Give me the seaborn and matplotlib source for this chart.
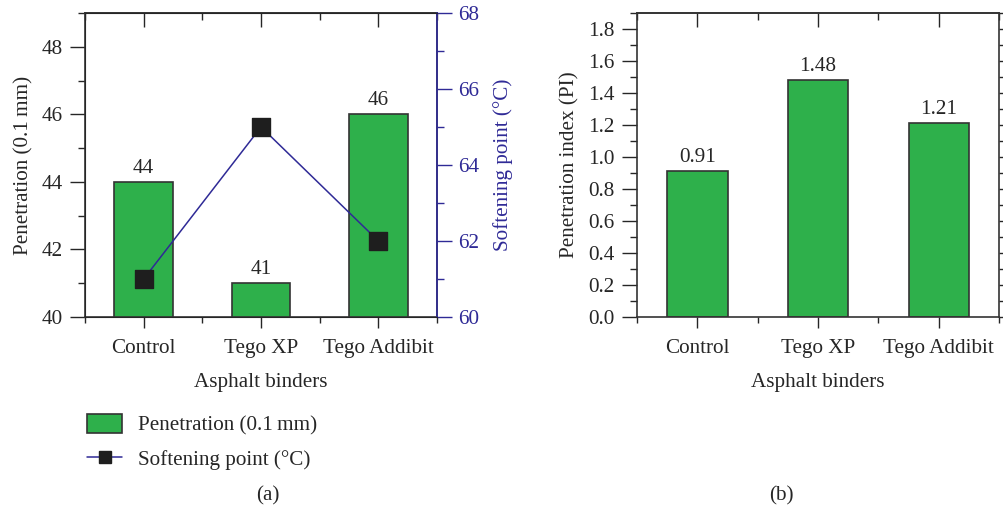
import numpy as np
import matplotlib
matplotlib.use("Agg")
import matplotlib.pyplot as plt
import seaborn as sns
from matplotlib.patches import Patch
from matplotlib.lines import Line2D
from matplotlib.ticker import MultipleLocator

# dados
binders = ['Control', 'Tego XP', 'Tego Addibit']
penetration = [44, 41, 46]
softening = [61, 65, 62]
pen_index = [0.91, 1.48, 1.21]
pen_labels = ['44', '41', '46']
pi_labels = ['0.91', '1.48', '1.21']

sns.set_style('ticks')
plt.rcParams['font.family'] = ['Liberation Serif', 'DejaVu Serif']
plt.rcParams['font.size'] = 15.2

green = '#2eb04b'
edge = '#333333'
blue = '#2f2a96'

fig = plt.figure(figsize=(10.04, 5.07), dpi=100)
ax1 = fig.add_axes([0.0847, 0.3748, 0.3506, 0.5996])
ax3 = fig.add_axes([0.6345, 0.3748, 0.3606, 0.5996])


def estilo(ax):
    for s in ax.spines.values():
        s.set_linewidth(1.2)
        s.set_color('#333333')
    ax.set_xlim(-0.5, 2.5)
    ax.xaxis.set_minor_locator(MultipleLocator(1, offset=0.5))
    ax.tick_params(axis='x', which='major', direction='out', length=8, width=1, bottom=True, top=False, pad=8)
    ax.tick_params(axis='x', which='minor', direction='out', length=4, width=1, bottom=True, top=False)
    ax.tick_params(axis='y', which='major', direction='out', length=11, width=1, pad=5)
    ax.tick_params(axis='y', which='minor', direction='out', length=5, width=1)
    top = ax.secondary_xaxis('top')
    top.set_xticks([0, 1, 2])
    top.xaxis.set_minor_locator(MultipleLocator(1, offset=0.5))
    top.tick_params(which='major', direction='in', length=10, width=1, labeltop=False)
    top.tick_params(which='minor', direction='in', length=5, width=1)
    top.spines['top'].set_linewidth(1.2)
    top.spines['top'].set_color('#333333')


# grafico (a): penetracao + ponto de amolecimento
sns.barplot(x=binders, y=penetration, ax=ax1, color=green, width=0.5,
            edgecolor=edge, linewidth=1.2, saturation=1)
ax1.set_ylim(40, 49)
ax1.yaxis.set_major_locator(MultipleLocator(2))
ax1.yaxis.set_minor_locator(MultipleLocator(1))
estilo(ax1)
ax1.set_xlabel('Asphalt binders', labelpad=11)
ax1.set_ylabel('Penetration (0.1\u2009mm)', labelpad=6)
for i, v in enumerate(penetration):
    ax1.text(i, v + 0.12, pen_labels[i], ha='center', va='bottom')

ax2 = ax1.twinx()
ax2.plot(np.arange(len(binders)), softening, color=blue, lw=1.1, zorder=2)
sns.scatterplot(x=np.arange(len(binders)), y=softening, ax=ax2, marker='s', s=150,
                color='#1e1e1e', edgecolor='#1e1e1e', zorder=3)
ax2.set_ylim(60, 68)
ax2.yaxis.set_major_locator(MultipleLocator(2))
ax2.yaxis.set_minor_locator(MultipleLocator(1))
ax2.tick_params(axis='y', which='major', direction='out', length=11, width=1, colors=blue, pad=4)
ax2.tick_params(axis='y', which='minor', direction='out', length=5, width=1, colors=blue)
ax2.spines['right'].set_color(blue)
ax2.spines['right'].set_linewidth(1.2)
ax2.set_ylabel('Softening point (°C)', color=blue, labelpad=10)

# grafico (b): indice de penetracao
sns.barplot(x=binders, y=pen_index, ax=ax3, color=green, width=0.5,
            edgecolor=edge, linewidth=1.2, saturation=1)
ax3.set_ylim(0, 1.9)
ax3.yaxis.set_major_locator(MultipleLocator(0.2))
ax3.yaxis.set_minor_locator(MultipleLocator(0.1))
estilo(ax3)
ax3.tick_params(axis='y', which='both', right=True)
ax3.yaxis.set_major_formatter(matplotlib.ticker.FormatStrFormatter('%.1f'))
ax3.set_xlabel('Asphalt binders', labelpad=11)
ax3.set_ylabel('Penetration index (PI)', labelpad=6)
for i, v in enumerate(pen_index):
    ax3.text(i, v + 0.025, pi_labels[i], ha='center', va='bottom')

# legenda
handles = [Patch(facecolor=green, edgecolor=edge, linewidth=1.2),
           Line2D([0], [0], color=blue, lw=1.1, marker='s', markersize=8,
                  markerfacecolor='#1e1e1e', markeredgecolor='#1e1e1e')]
fig.legend(handles, ['Penetration (0.1\u2009mm)', 'Softening point (°C)'],
           loc='upper left', bbox_to_anchor=(0.087, 0.183), frameon=False,
           handlelength=1.65, handleheight=1.0, handletextpad=0.75, labelspacing=0.6,
           borderaxespad=0, borderpad=0)

fig.text(0.267, 0.022, '(a)', ha='center', va='center')
fig.text(0.778, 0.022, '(b)', ha='center', va='center')

fig.savefig('out.png', dpi=100)
